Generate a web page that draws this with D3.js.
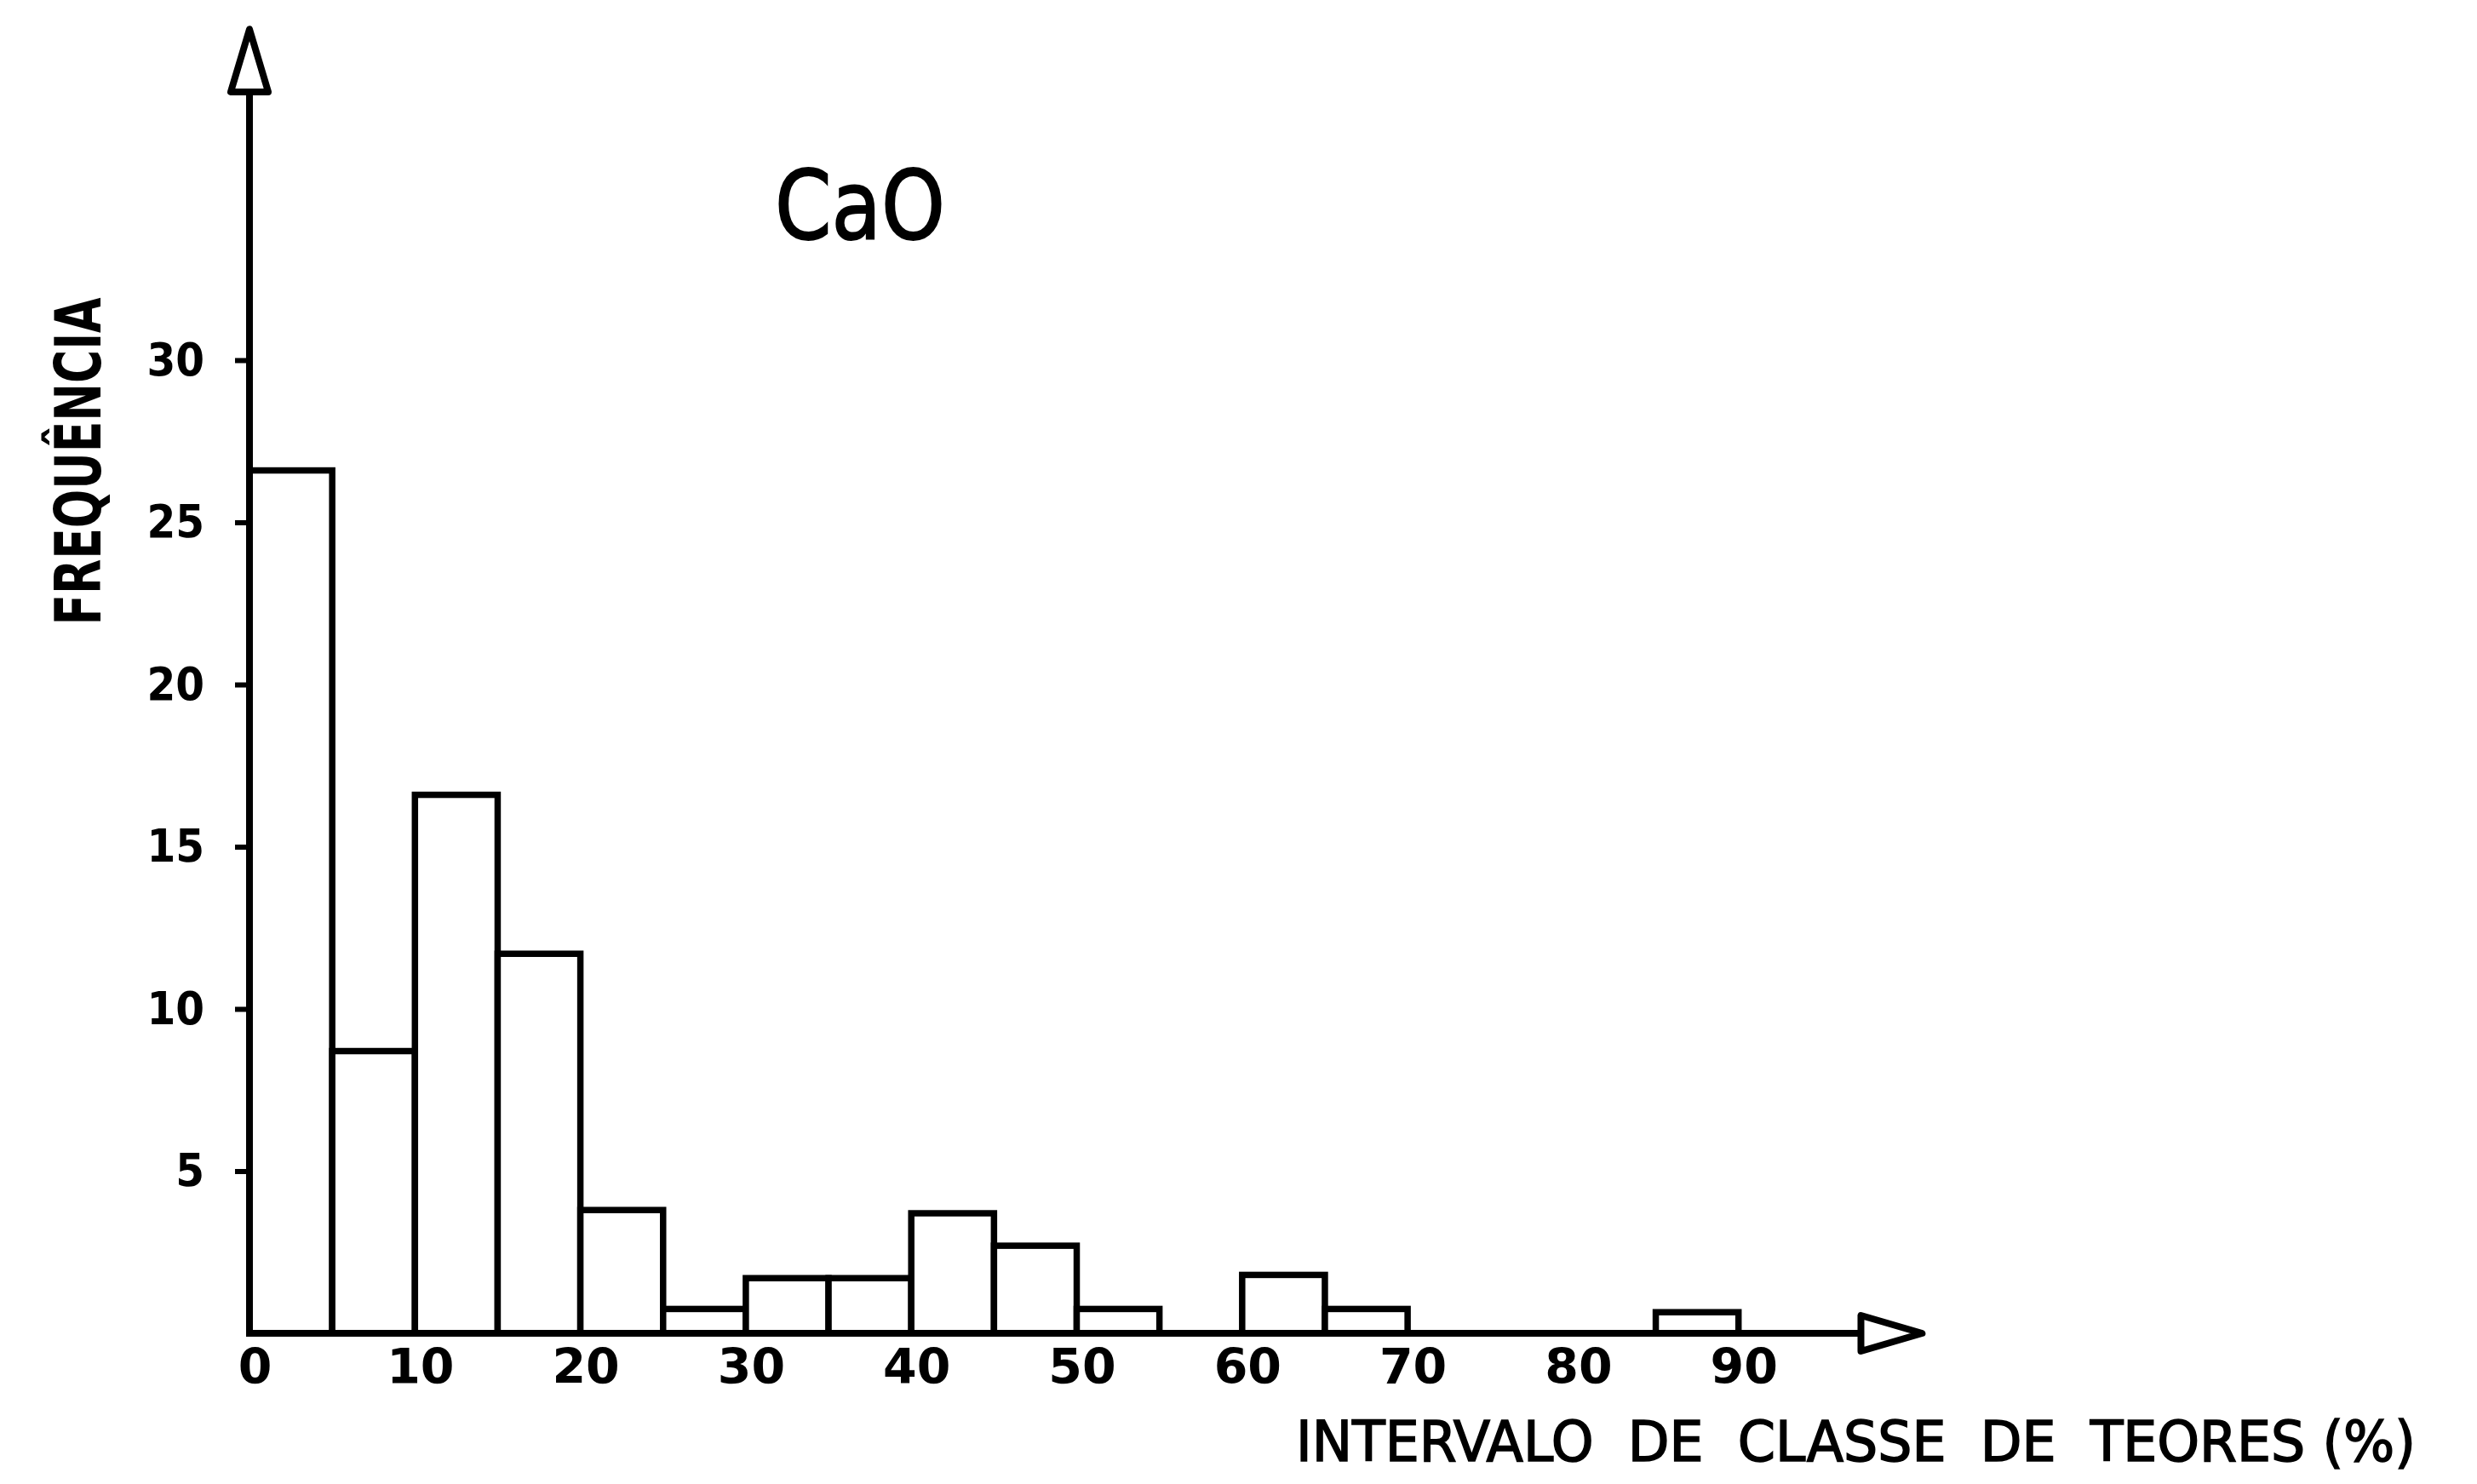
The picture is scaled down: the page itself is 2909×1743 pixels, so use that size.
<!DOCTYPE html>
<html>
<head>
<meta charset="utf-8">
<script src="https://cdn.jsdelivr.net/npm/d3@7"></script>
<style>
  html, body { margin: 0; padding: 0; background: #fff; }
  text { fill: #000; }
</style>
</head>
<body>
<div id="chart"></div>
<script>
// histogram of CaO grades: lower bound of each 5% class and its frequency
const binLow = [0, 5, 10, 15, 20, 25, 30, 35, 40, 45, 50, 55, 60, 65, 70, 75, 80, 85];
const freq = [26.6, 8.7, 16.6, 11.7, 3.8, 0.75, 1.7, 1.7, 3.7, 2.7, 0.75, 0, 1.8, 0.75, 0, 0, 0, 0.65];
const binWidth = 5;

const xTicks = [0, 10, 20, 30, 40, 50, 60, 70, 80, 90];
const yTicks = [5, 10, 15, 20, 25, 30];

const title = "CaO";
const yTitle = "FREQUÊNCIA";
const xTitle = "INTERVALO  DE  CLASSE  DE  TEORES (%)";

const width = 2909, height = 1743;

const x = d3.scaleLinear().domain([0, 100]).range([293, 2236]);
const y = d3.scaleLinear().domain([0, 30]).range([1566, 423]);

const svg = d3.select("#chart")
    .append("svg")
    .attr("width", width)
    .attr("height", height);

const data = binLow.map((b, i) => ({ lo: b, hi: b + binWidth, f: freq[i] }));

// bars (empty classes are not drawn)
svg.append("g")
    .selectAll("rect")
    .data(data.filter(d => d.f > 0))
    .enter()
    .append("rect")
    .attr("x", d => x(d.lo))
    .attr("y", d => y(d.f))
    .attr("width", d => x(d.hi) - x(d.lo))
    .attr("height", d => y(0) - y(d.f))
    .attr("fill", "#fff")
    .attr("stroke", "#000")
    .attr("stroke-width", 7.5);

const labelFont = "'DejaVu Sans Condensed', 'DejaVu Sans', sans-serif";

// y axis ticks + labels
const yAxis = svg.append("g")
    .attr("transform", "translate(" + x(0) + ",0)")
    .call(d3.axisLeft(y).tickValues(yTicks).tickSize(17).tickPadding(36));
yAxis.select(".domain").remove();
yAxis.selectAll(".tick line").attr("stroke", "#000").attr("stroke-width", 6);
yAxis.selectAll(".tick text")
    .style("font-family", labelFont)
    .style("font-stretch", "condensed")
    .style("font-weight", "bold")
    .style("font-size", "54px");

// x axis labels
const xAxis = svg.append("g")
    .attr("transform", "translate(0," + y(0) + ")")
    .call(d3.axisBottom(x).tickValues(xTicks).tickSize(0).tickPadding(19));
xAxis.select(".domain").remove();
xAxis.selectAll(".tick text")
    .attr("dx", 6)
    .style("font-family", "'DejaVu Sans', sans-serif")
    .style("font-weight", "bold")
    .style("font-size", "57px");

// axis lines with open arrow heads
const yArrowBase = 38.27, yArrowTip = 40.2;
const xArrowBase = 97.4, xArrowTip = 101.1;

svg.append("line")
    .attr("x1", x(0)).attr("y1", y(0))
    .attr("x2", x(0)).attr("y2", y(yArrowBase))
    .attr("stroke", "#000").attr("stroke-width", 8);

svg.append("line")
    .attr("x1", x(0) - 4).attr("y1", y(0))
    .attr("x2", x(xArrowBase)).attr("y2", y(0))
    .attr("stroke", "#000").attr("stroke-width", 8);

svg.append("polygon")
    .attr("points", [
        [x(0) - 22, y(yArrowBase)],
        [x(0) + 22, y(yArrowBase)],
        [x(0), y(yArrowTip)]
    ].join(" "))
    .attr("fill", "#fff").attr("stroke", "#000").attr("stroke-width", 8)
    .attr("stroke-linejoin", "round");

svg.append("polygon")
    .attr("points", [
        [x(xArrowBase), y(0) - 21],
        [x(xArrowBase), y(0) + 21],
        [x(xArrowTip), y(0)]
    ].join(" "))
    .attr("fill", "#fff").attr("stroke", "#000").attr("stroke-width", 8)
    .attr("stroke-linejoin", "round");

// titles
svg.append("text")
    .attr("x", 910)
    .attr("y", 280)
    .attr("textLength", 200)
    .attr("lengthAdjust", "spacingAndGlyphs")
    .style("font-family", "'DejaVu Sans', sans-serif")
    .style("font-weight", 500)
    .style("font-size", "112px")
    .attr("stroke", "#000")
    .attr("stroke-width", 2)
    .text(title);

svg.append("text")
    .attr("transform", "translate(118,542) rotate(-90)")
    .attr("text-anchor", "middle")
    .attr("textLength", 385)
    .attr("lengthAdjust", "spacingAndGlyphs")
    .style("font-family", labelFont)
    .style("font-stretch", "condensed")
    .style("font-weight", "bold")
    .style("font-size", "75px")
    .text(yTitle);

svg.append("text")
    .attr("x", 1522)
    .attr("y", 1716)
    .attr("textLength", 1315)
    .attr("lengthAdjust", "spacingAndGlyphs")
    .style("white-space", "pre")
    .style("font-family", labelFont)
    .style("font-stretch", "condensed")
    .style("font-size", "66px")
    .attr("stroke", "#000")
    .attr("stroke-width", 1.5)
    .text(xTitle);
</script>
</body>
</html>
